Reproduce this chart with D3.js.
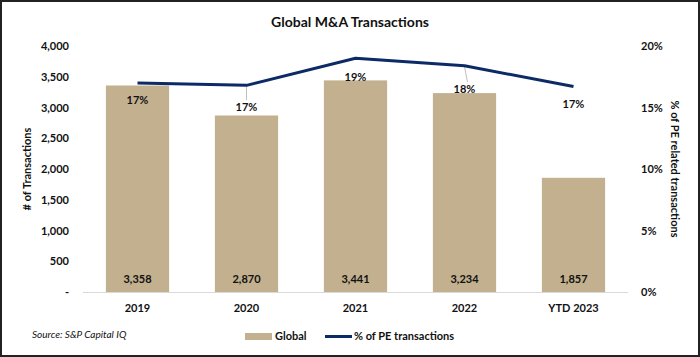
<!DOCTYPE html>
<html><head><meta charset="utf-8">
<script src="https://cdn.jsdelivr.net/npm/d3@7"></script>
<style>
body{margin:0;background:#fff;}
svg{display:block;font-family:Lato,"Open Sans",sans-serif;}
</style></head>
<body><svg id="c" width="700" height="357"></svg>
<script>
const categories = ["2019","2020","2021","2022","YTD 2023"];
const globalDeals = [3358,2870,3441,3234,1857];
const pePct = [17.0,16.8,19.0,18.4,16.7];
const pctLabels = ["17%","17%","19%","18%","17%"];
const leftTicks = [0,500,1000,1500,2000,2500,3000,3500,4000];
const rightTicks = [0,5,10,15,20];

const svg = d3.select("#c");
const W=700,H=357;
svg.append("rect").attr("x",1).attr("y",1).attr("width",W-2).attr("height",H-2)
  .attr("fill","#fff").attr("stroke","#222").attr("stroke-width",2);

const m={l:83,r:628,t:46,b:292};
const x=d3.scaleBand().domain(categories).range([m.l,m.r]).paddingInner(0.42).paddingOuter(0.21);
const y=d3.scaleLinear().domain([0,4000]).range([m.b,m.t]);
const y2=d3.scaleLinear().domain([0,20]).range([m.b,m.t]);

svg.append("text").attr("x",350).attr("y",27).attr("text-anchor","middle")
  .attr("font-size",14).attr("font-weight","bold").attr("fill","#111").text("Global M&A Transactions");

// left axis
const la=svg.append("g").attr("transform",`translate(${m.l-14},0)`)
  .call(d3.axisLeft(y).tickValues(leftTicks).tickSize(0).tickPadding(0)
    .tickFormat(d=>d===0?"-":d3.format(",")(d)));
la.select(".domain").remove();
la.selectAll("text").attr("font-size",11).attr("font-weight","bold").attr("fill","#111").attr("font-family","Lato");

const ra=svg.append("g").attr("transform",`translate(${m.r+13},0)`)
  .call(d3.axisRight(y2).tickValues(rightTicks).tickSize(0).tickPadding(0).tickFormat(d=>d+"%"));
ra.select(".domain").remove();
ra.selectAll("text").attr("font-size",11).attr("font-weight","bold").attr("fill","#111").attr("font-family","Lato");

svg.append("text").attr("transform",`translate(31,169) rotate(-90)`).attr("text-anchor","middle")
  .attr("font-size",11).attr("font-weight","bold").attr("fill","#111").text("# of Transactions");
svg.append("text").attr("transform",`translate(671,169) rotate(90)`).attr("text-anchor","middle")
  .attr("font-size",11).attr("font-weight","bold").attr("fill","#111").text("% of PE related transactions");

// bars
svg.append("g").selectAll("rect").data(categories).join("rect")
  .attr("x",d=>x(d)).attr("width",x.bandwidth())
  .attr("y",(d,i)=>y(globalDeals[i])).attr("height",(d,i)=>y(0)-y(globalDeals[i]))
  .attr("fill","#C2B08E");

// baseline
svg.append("line").attr("x1",m.l).attr("x2",m.r).attr("y1",m.b+0.5).attr("y2",m.b+0.5)
  .attr("stroke","#d9d9d9").attr("stroke-width",1);

// value labels
svg.append("g").selectAll("text").data(categories).join("text")
  .attr("x",d=>x(d)+x.bandwidth()/2).attr("y",283).attr("text-anchor","middle")
  .attr("font-size",11).attr("font-weight","bold").attr("fill","#111")
  .text((d,i)=>d3.format(",")(globalDeals[i]));

// category labels
const xa=svg.append("g").attr("transform",`translate(0,${m.b+4})`)
  .call(d3.axisBottom(x).tickSize(0).tickPadding(8));
xa.select(".domain").remove();
xa.selectAll("text").attr("font-size",11).attr("font-weight","bold").attr("fill","#111").attr("font-family","Lato");

// leader lines
const leaders=[1,3];
const labelY=[104,111,81,93,108];
svg.append("g").selectAll("line").data(leaders).join("line")
  .attr("x1",i=>x(categories[i])+x.bandwidth()/2).attr("x2",i=>x(categories[i])+x.bandwidth()/2+(i===3?3:0))
  .attr("y1",i=>y2(pePct[i])+1).attr("y2",i=>labelY[i]-11)
  .attr("stroke","#bfbfbf").attr("stroke-width",1);

// line
const line=d3.line().x((d,i)=>x(categories[i])+x.bandwidth()/2).y(d=>y2(d));
svg.append("path").datum(pePct).attr("d",line).attr("fill","none")
  .attr("stroke","#0C2A66").attr("stroke-width",3).attr("stroke-linejoin","round");

// pct labels
svg.append("g").selectAll("text").data(categories).join("text")
  .attr("x",d=>x(d)+x.bandwidth()/2).attr("y",(d,i)=>labelY[i]).attr("text-anchor","middle")
  .attr("font-size",11).attr("font-weight","bold").attr("fill","#111")
  .text((d,i)=>pctLabels[i]);

// source
svg.append("text").attr("x",32).attr("y",338).attr("font-size",10).attr("font-style","italic")
  .attr("fill","#111").text("Source: S&P Capital IQ");

// legend
svg.append("rect").attr("x",245).attr("y",333).attr("width",27).attr("height",7).attr("fill","#C2B08E");
svg.append("text").attr("x",275).attr("y",340).attr("font-size",11).attr("font-weight","bold").attr("fill","#111").text("Global");
svg.append("line").attr("x1",325).attr("x2",352).attr("y1",336.5).attr("y2",336.5).attr("stroke","#0C2A66").attr("stroke-width",3);
svg.append("text").attr("x",354).attr("y",340).attr("font-size",11).attr("font-weight","bold").attr("fill","#111").text("% of PE transactions");
</script></body></html>
